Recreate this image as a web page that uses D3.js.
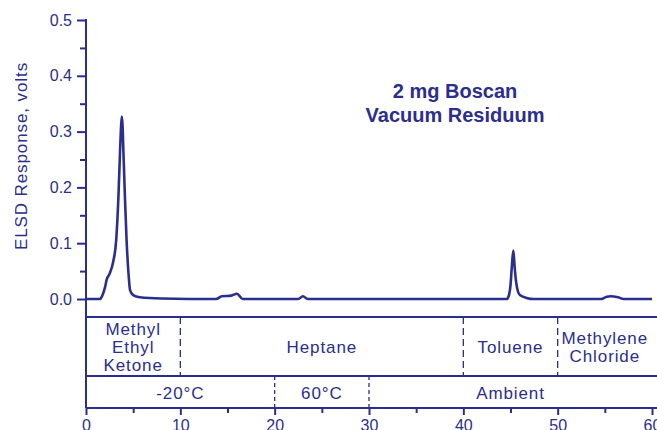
<!DOCTYPE html>
<html>
<head>
<meta charset="utf-8">
<script src="https://cdn.jsdelivr.net/npm/d3@7"></script>
<style>
  body { margin: 0; background: #fff; }
  svg { display: block; font-family: "Liberation Sans", Arial, sans-serif; }
</style>
</head>
<body>
<div id="chart"></div>
<script>
// chromatogram trace (minutes, volts)
const time = [0, 1.5, 1.7, 2.0, 2.2, 2.5, 2.9, 3.2, 3.43, 3.6, 3.72, 3.8, 3.88, 3.96, 4.14, 4.3, 4.5, 4.67, 5.0, 5.7, 8,
  13.8, 14.4, 15.4, 16.0, 16.6, 22.5, 23.0, 23.5,
  44.6, 44.8, 45.0, 45.15, 45.3, 45.45, 45.6, 45.8, 46.0, 46.7, 47.5,
  54.6, 55.2, 55.6, 56.4, 57.0, 60];
const response = [0, 0, 0.005, 0.02, 0.035, 0.045, 0.068, 0.105, 0.18, 0.26, 0.31, 0.327, 0.31, 0.267, 0.177, 0.106, 0.047, 0.016, 0.007, 0.003, 0.001,
  0, 0.005, 0.006, 0.0095, 0, 0, 0.005, 0,
  0, 0.005, 0.025, 0.06, 0.087, 0.055, 0.03, 0.013, 0.007, 0.002, 0,
  0, 0.004, 0.005, 0.003, 0, 0];

const yMajor = [0, 0.1, 0.2, 0.3, 0.4, 0.5];
const yMinor = [0.05, 0.15, 0.25, 0.35, 0.45];
const xMajor = [0, 10, 20, 30, 40, 50, 60];
const xMinor = [5, 15, 25, 35, 45, 55];

// mobile phase table
const solvents = [["Methyl", "Ethyl", "Ketone"], ["Heptane"], ["Toluene"], ["Methylene", "Chloride"]];
const solventBounds = [0, 10, 40, 50, 60];
const temps = ["-20\u00B0C", "60\u00B0C", "Ambient"];
const tempBounds = [0, 20, 30, 60];

const title = ["2 mg Boscan", "Vacuum Residuum"];

const W = 657, H = 430;
const navy = "#2b2e8f";
const rowTop = 317, rowMid = 376, rowBot = 408;

const svg = d3.select("#chart").append("svg")
  .attr("width", W).attr("height", H);

const x = d3.scaleLinear().domain([0, 60]).range([86, 652]);
const y = d3.scaleLinear().domain([0, 0.5]).range([299, 20]);

// y axis
svg.append("g").attr("transform", "translate(86,0)")
  .call(d3.axisLeft(y).tickValues(yMajor).tickFormat(d3.format(".1f")).tickSize(9).tickPadding(5));
svg.append("g").attr("transform", "translate(86,0)")
  .call(d3.axisLeft(y).tickValues(yMinor).tickFormat("").tickSize(6));

// x axis
svg.append("g").attr("transform", `translate(0,${rowBot})`)
  .call(d3.axisBottom(x).tickValues(xMajor).tickSize(7).tickPadding(5));
svg.append("g").attr("transform", `translate(0,${rowBot})`)
  .call(d3.axisBottom(x).tickValues(xMinor).tickFormat("").tickSize(5));

svg.selectAll(".domain").remove();
svg.selectAll(".tick line").attr("stroke", navy).attr("stroke-width", 2);
svg.selectAll(".tick text").attr("fill", navy).style("font-size", "16px")
  .style("font-family", "Liberation Sans, Arial, sans-serif");

// frame lines
svg.append("line").attr("x1", 86).attr("x2", 86).attr("y1", 19).attr("y2", rowBot)
  .attr("stroke", navy).attr("stroke-width", 2);
svg.selectAll(".hline").data([rowTop, rowMid, rowBot]).enter().append("line")
  .attr("x1", 86).attr("x2", W).attr("y1", d => d).attr("y2", d => d)
  .attr("stroke", navy).attr("stroke-width", 2);

// dividers
svg.selectAll(".sdiv").data(solventBounds.slice(1, -1)).enter().append("line")
  .attr("x1", d => x(d)).attr("x2", d => x(d)).attr("y1", rowTop).attr("y2", rowMid)
  .attr("stroke", navy).attr("stroke-width", 1.3).attr("stroke-dasharray", "7,4");
svg.selectAll(".tdiv").data(tempBounds.slice(1, -1)).enter().append("line")
  .attr("x1", d => x(d)).attr("x2", d => x(d)).attr("y1", rowMid).attr("y2", rowBot)
  .attr("stroke", navy).attr("stroke-width", 1.3).attr("stroke-dasharray", "4,3");

// solvent labels
const sMid = (rowTop + rowMid) / 2 + 6;
solvents.forEach((lines, i) => {
  const cx = x((solventBounds[i] + solventBounds[i + 1]) / 2);
  const t = svg.append("text").attr("text-anchor", "middle").attr("fill", navy)
    .style("font-size", "17px").style("letter-spacing", "0.9px");
  lines.forEach((s, j) => {
    t.append("tspan").attr("x", cx)
      .attr("y", sMid - (lines.length - 1) * 9 + j * 18).text(s);
  });
});

// temperature labels
temps.forEach((s, i) => {
  svg.append("text").attr("text-anchor", "middle").attr("fill", navy)
    .attr("x", x((tempBounds[i] + tempBounds[i + 1]) / 2))
    .attr("y", (rowMid + rowBot) / 2 + 6.5)
    .style("font-size", "17px").style("letter-spacing", "0.9px").text(s);
});

// trace
const line = d3.line().x(d => x(d[0])).y(d => y(d[1])).curve(d3.curveMonotoneX);
svg.append("path").datum(d3.zip(time, response))
  .attr("d", line).attr("fill", "none").attr("stroke", navy)
  .attr("stroke-width", 2.6).attr("stroke-linejoin", "round");

// title
const tt = svg.append("text").attr("text-anchor", "middle").attr("fill", navy)
  .style("font-size", "20px").style("font-weight", "bold");
title.forEach((s, j) => tt.append("tspan").attr("x", 455).attr("y", 98 + j * 24).text(s));

// y label (clipped on the left like the scan)
svg.append("clipPath").attr("id", "ylclip").append("rect")
  .attr("x", 15).attr("y", 0).attr("width", 40).attr("height", H);
svg.append("g").attr("clip-path", "url(#ylclip)")
  .append("text")
  .attr("transform", "translate(27,156) rotate(-90)")
  .attr("text-anchor", "middle").attr("fill", navy)
  .style("font-size", "17px").style("letter-spacing", "0.9px")
  .text("ELSD Response, volts");
</script>
</body>
</html>
